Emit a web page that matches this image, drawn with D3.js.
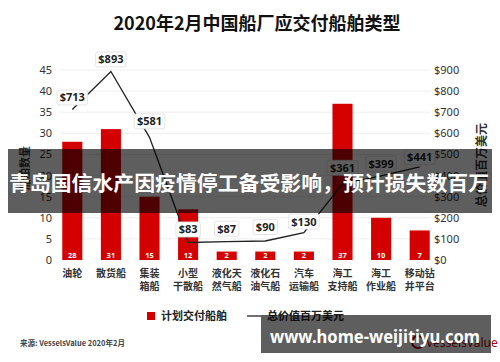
<!DOCTYPE html>
<html>
<head>
<meta charset="utf-8">
<script src="https://cdn.jsdelivr.net/npm/d3@7"></script>
<style>
  body { margin: 0; background: #fff; }
  svg { display: block; font-family: "Noto Sans CJK SC", "Noto Sans", sans-serif; }
</style>
</head>
<body>
<svg id="chart"></svg>
<script>
// data
const categories = ['油轮', '散货船', '集装箱船', '小型干散船', '液化天然气船', '液化石油气船', '汽车运输船', '海工支持船', '海工作业船', '移动钻井平台'];
const categoryLines = [['油轮'], ['散货船'], ['集装', '箱船'], ['小型', '干散船'], ['液化天', '然气船'], ['液化石', '油气船'], ['汽车', '运输船'], ['海工', '支持船'], ['海工', '作业船'], ['移动钻', '井平台']];
const shipCounts = [28, 31, 15, 12, 2, 2, 2, 37, 10, 7];
const totalValue = [713, 893, 581, 83, 87, 90, 130, 361, 399, 441];
const leftTicks = [0, 5, 10, 15, 20, 25, 30, 35, 40, 45];
const rightTicks = [0, 100, 200, 300, 400, 500, 600, 700, 800, 900];

const width = 500, height = 362;
const plot = { left: 53, right: 439, top: 70, bottom: 260 };
const red = '#d40000';

const svg = d3.select('#chart').attr('width', width).attr('height', height);

const x = d3.scaleBand()
    .domain(categories)
    .range([plot.left, plot.right])
    .paddingInner(0.48)
    .paddingOuter(0.24);

const yLeft = d3.scaleLinear().domain([0, 45]).range([plot.bottom, plot.top]);
const yRight = d3.scaleLinear().domain([0, 900]).range([plot.bottom, plot.top]);

// title
svg.append('text')
    .attr('x', 257).attr('y', 30)
    .attr('text-anchor', 'middle')
    .attr('font-size', 18).attr('font-weight', 'bold')
    .attr('fill', '#111')
    .text('2020年2月中国船厂应交付船舶类型');

// gridlines
svg.append('g')
    .selectAll('line')
    .data(leftTicks.slice(1))
    .join('line')
    .attr('x1', 60).attr('x2', 430)
    .attr('y1', d => yLeft(d)).attr('y2', d => yLeft(d))
    .attr('stroke', '#eeeeee');

// left axis
svg.append('g')
    .attr('transform', `translate(52,0)`)
    .call(d3.axisLeft(yLeft).tickValues(leftTicks).tickSize(0).tickPadding(0))
    .call(g => g.select('.domain').remove())
    .call(g => g.selectAll('text')
        .attr('font-size', 11).attr('fill', '#333')
        .attr('font-family', '"Noto Sans", sans-serif'));

// right axis
svg.append('g')
    .attr('transform', `translate(434,0)`)
    .call(d3.axisRight(yRight).tickValues(rightTicks).tickSize(0).tickPadding(0)
        .tickFormat(d => '$' + d))
    .call(g => g.select('.domain').remove())
    .call(g => g.selectAll('text')
        .attr('font-size', 11).attr('fill', '#333')
        .attr('font-family', '"Noto Sans", sans-serif'));

// axis titles
svg.append('text')
    .attr('transform', `translate(29,168)rotate(-90)`)
    .attr('text-anchor', 'middle')
    .attr('font-size', 11).attr('font-weight', 'bold').attr('fill', '#333')
    .text('船舶数量');

svg.append('text')
    .attr('transform', `translate(486,165)rotate(-90)`)
    .attr('text-anchor', 'middle')
    .attr('font-size', 12).attr('font-weight', 'bold').attr('fill', '#333')
    .text('总价值百万美元');

// bars
svg.append('g')
    .selectAll('rect')
    .data(shipCounts)
    .join('rect')
    .attr('x', (d, i) => x(categories[i]))
    .attr('y', d => yLeft(d))
    .attr('width', x.bandwidth())
    .attr('height', d => plot.bottom - yLeft(d))
    .attr('fill', red);

// counts inside bars
svg.append('g')
    .selectAll('text')
    .data(shipCounts)
    .join('text')
    .attr('x', (d, i) => x(categories[i]) + x.bandwidth() / 2)
    .attr('y', 258)
    .attr('text-anchor', 'middle')
    .attr('font-size', 7.5).attr('font-weight', 'bold')
    .attr('font-family', '"Noto Sans", sans-serif')
    .attr('fill', '#fff')
    .text(d => d);

// category labels
const cat = svg.append('g')
    .selectAll('text')
    .data(categoryLines)
    .join('text')
    .attr('x', (d, i) => x(categories[i]) + x.bandwidth() / 2)
    .attr('y', 277)
    .attr('text-anchor', 'middle')
    .attr('font-size', 10).attr('font-weight', 'bold').attr('fill', '#333');
cat.selectAll('tspan')
    .data(d => d)
    .join('tspan')
    .attr('x', function () { return this.parentNode.getAttribute('x'); })
    .attr('dy', (d, i) => i === 0 ? 0 : 13)
    .text(d => d);

// value line
const line = d3.line()
    .x((d, i) => x(categories[i]) + x.bandwidth() / 2)
    .y(d => yRight(d));

svg.append('path')
    .datum(totalValue)
    .attr('d', line)
    .attr('fill', 'none')
    .attr('stroke', '#222')
    .attr('stroke-width', 1.3);

// value labels
const labelOffset = [12, 12, 16, 13, 13, 14, 11, 16, 12, 10];
const labels = svg.append('g')
    .selectAll('g')
    .data(totalValue)
    .join('g')
    .attr('transform', (d, i) =>
        `translate(${x(categories[i]) + x.bandwidth() / 2},${yRight(d) - labelOffset[i]})`);

labels.append('rect')
    .attr('x', d => -(String(d).length * 6.2 + 12) / 2)
    .attr('y', -7.5)
    .attr('width', d => String(d).length * 6.2 + 12)
    .attr('height', 15)
    .attr('rx', 2)
    .attr('fill', '#fff')
    .attr('stroke', '#dddddd')
    .attr('stroke-width', 0.8);

labels.append('text')
    .attr('text-anchor', 'middle')
    .attr('dy', '0.36em')
    .attr('font-size', 11).attr('font-weight', 'bold')
    .attr('font-family', '"Noto Sans", sans-serif')
    .attr('fill', '#222')
    .text(d => '$' + d);

// legend
svg.append('rect')
    .attr('x', 147).attr('y', 312).attr('width', 8).attr('height', 8)
    .attr('fill', red);
svg.append('text')
    .attr('x', 161).attr('y', 320)
    .attr('font-size', 11).attr('font-weight', 'bold').attr('fill', '#222')
    .text('计划交付船舶');
svg.append('line')
    .attr('x1', 247).attr('x2', 261).attr('y1', 316).attr('y2', 316)
    .attr('stroke', '#222').attr('stroke-width', 1.3);
svg.append('text')
    .attr('x', 267).attr('y', 320)
    .attr('font-size', 11).attr('font-weight', 'bold').attr('fill', '#222')
    .text('总价值百万美元');

// source + logo
svg.append('text')
    .attr('x', 20).attr('y', 346)
    .attr('font-size', 7.5).attr('font-weight', 'bold').attr('fill', '#444')
    .text('来源: VesselsValue 2020年2月');
svg.append('circle')
    .attr('cx', 418).attr('cy', 342).attr('r', 6)
    .attr('fill', 'none').attr('stroke', '#b00010').attr('stroke-width', 2);
svg.append('text')
    .attr('x', 426).attr('y', 347)
    .attr('font-size', 12).attr('fill', '#b00010')
    .attr('font-family', '"Noto Sans", sans-serif')
    .text('VesselsValue');

// overlay banners
svg.append('rect')
    .attr('x', 8).attr('y', 149).attr('width', 484).attr('height', 64)
    .attr('fill', 'rgba(0,0,0,0.63)');
svg.append('text')
    .attr('x', 9).attr('y', 191)
    .attr('font-size', 20.5).attr('font-weight', 'bold').attr('fill', '#fff')
    .attr('textLength', 480).attr('lengthAdjust', 'spacingAndGlyphs')
    .text('青岛国信水产因疫情停工备受影响，预计损失数百万');

svg.append('rect')
    .attr('x', 261).attr('y', 315).attr('width', 230).attr('height', 38)
    .attr('fill', 'rgba(0,0,0,0.63)');
svg.append('text')
    .attr('x', 270).attr('y', 343)
    .attr('font-size', 17).attr('font-weight', 'bold').attr('fill', '#fff')
    .attr('font-family', '"Noto Sans", sans-serif')
    .attr('textLength', 210).attr('lengthAdjust', 'spacingAndGlyphs')
    .text('www.home-weijitiyu.com');
</script>
</body>
</html>
